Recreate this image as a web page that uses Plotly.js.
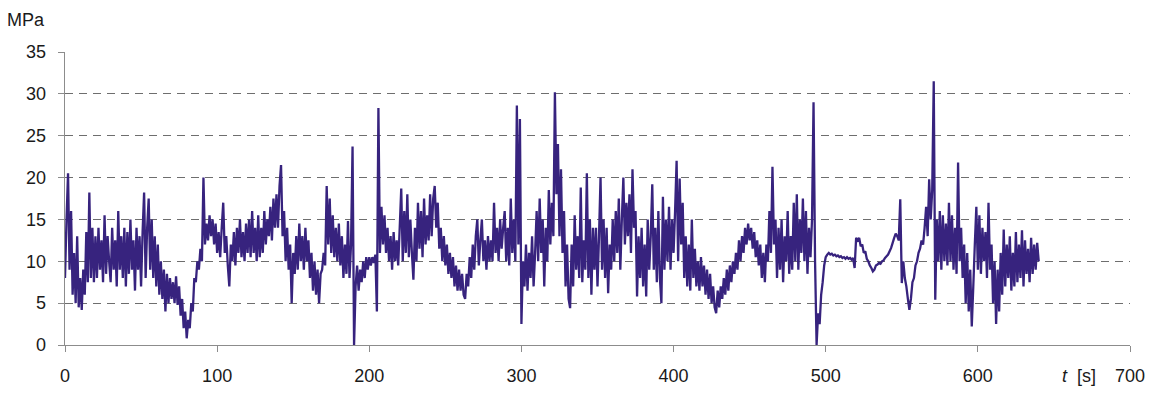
<!DOCTYPE html>
<html>
<head>
<meta charset="utf-8">
<script src="https://cdn.plot.ly/plotly-3.0.1.min.js"></script>
<style>html,body{margin:0;padding:0;background:#fff;}#chart{width:1153px;height:395px;}</style>
</head>
<body>
<div id="chart"></div>
<script>
const sampleStep = 1; // seconds between samples
const s000 = [8,15,20.5,9,16,6,11,5,13,4.5, 8,4.2,9,6,13.5,7.5,18.2,8,14,7.5, 13,8,14,9,12.5,7.5,15.5,8.5,13,10, 7.5,14,9,12.5,7,16,9,13,8,14, 7,13.5,8.5,15,9,12.5,6.5,14,9,13, 7,13.5,18.2,8,14,17.5,9,15,8,13, 7,12,6,10,5.5,9,4,8.5,5,8, 5.5,7.5,5,8.2,4.8,7,3.5,5.5,2,4, 0.8,3,2,5,4,8,7.5,10,9,11.5, 10,20,12,14.5,12.5,15.5,13,15,12,14.5];
const s100 = [11,13.5,10.5,14,17,11,13,9.5,7,12, 10,13.5,9.5,14,11,15,10.5,13.5,10,14.5, 11,15,10.5,16,11,14,10,15.5,10.5,14, 11,16,12,15,13,16.5,12.5,17.5,14,18, 14,19,21.5,13,16,10,14,9,12,5, 11,8.5,13,9,14.5,10,13,9,14,10, 12.5,8,11,6.5,10,6,9,5,8.5,9, 11,9.5,19,12,17.5,11,15.5,10.5,14,10, 14.5,9.5,13,8,12,8.5,14.8,8,12,23.7, 0,7,9.5,6.5,9,7.5,10,8,10.5,9];
const s200 = [10.5,9.5,10.5,9.8,10.8,4,28.3,11,16.5,12, 15.5,11,14,10,13,9,13.5,10,12.5,9.5, 14,18.7,10,16,11,18,10.5,15,11,7.8, 14,10,17,11.5,16,10.5,17.5,12,15.5,12.5, 18,13,17.5,19,14,17,11.5,14,10,13, 9.5,12,8.5,11,8,10.5,7,9.5,6.5,9, 6.5,8.5,6,5.5,8.5,7,10.5,8,12,9, 13,15,9.5,12.5,15,10,12.5,9,13,10, 12.5,10,17,11,14,10,15,11.5,14,16, 10,14,9.5,17.5,11,15,10,28.6,12,27];
const s300 = [2.5,10,7,12,6.5,11,8,13,7,11, 16,10,17.5,11,15,7,14,10,18.5,12, 17,13,30.2,18,24,13,21,11,16,7, 12,5.5,4.4,12,7,15.5,9,13,8,18.8, 7.5,12.5,9,20.5,8,15,6,14,9,14, 7,13,20,9,15,8,14,6.2,12,9, 15,10,16,11,17.5,9,15,20,12,17, 13,18,11,21,14,16,5.8,13,8,14, 7,12,5.8,15,9,13,19.2,9,14,7.5, 16,8,5,17.7,9,15,10,16.5,9,15];
const s400 = [11,16,22,10,19.9,12,17,8,13,7, 12,6.5,15,8,11.5,7,10,6.5,10.5,7, 9.5,6,9,5.5,8.5,5,7,4.5,3.8,6.5, 4.5,7,5.5,8,6,9,6.5,9.5,7.5,10, 8.5,11,9,12.5,10,13,11,14,12,14.5, 12.5,14,11.5,13.5,10.5,12.5,9.5,12,8,11, 7.5,12,10,16,11,21.3,12,15,8,14, 9,15,7.5,13,10,16,8.5,13,9,17, 10,18,9,15,11,17.5,10,16,8.5,14, 10.5,15,29,10,0,3.8,2.5,6,7.5,9.5];
const s500 = [10.5,10.8,11,10.8,10.9,10.7,10.8,10.6,10.7,10.5, 10.6,10.4,10.5,10.3,10.5,10.3,10.4,10.2,10.4,9.2, 12.8,12.5,12.8,11.8,12,11,11.2,10.3,10,9.5, 9.2,8.8,9,9.5,9.6,9.8,9.7,10,10.1,10.4, 10.6,10.8,11.2,11.6,12.2,12.8,13.3,13,12.5,17.4, 7.4,10,8,7,5.5,4.2,5.5,7.5,8,9.5, 10,11,11.5,12.5,12,14,16.5,13,19.8,15, 18.5,31.5,5.4,15,10,16,9,15.5,10,14.5, 9.5,17,10,15.5,9,14,8.5,21.8,10,14, 8,12,5,11,4,9,2.2,7,12,16.5];
const s600 = [9,15.5,8.5,14,10,13.5,8,17,9,12, 5,10,2.5,9,4,11,6,13.8,7,12, 8,13,6.5,11,7,13.5,7.5,12,8,13.7, 7,12.5,8.5,11.5,7.5,12.8,8.5,12,9,12.2,10];

const xTickVals = [0,100,200,300,400,500,600,700];
const yTickVals = [0,5,10,15,20,25,30,35];
const yUnitLabel = 'MPa';
const xTitleLabel = '<i>t</i>  [s]';

const stress = [].concat(s000, s100, s200, s300, s400, s500, s600);
const time = stress.map((_, i) => i * sampleStep);

const font = {family: 'Liberation Sans, Arial, sans-serif', size: 18, color: '#1a1a1a'};

const trace = {
  x: time, y: stress, type: 'scatter', mode: 'lines',
  line: {color: '#37237e', width: 2.3, simplify: false}, hoverinfo: 'skip'
};

const layout = {
  width: 1153, height: 395,
  margin: {l: 65, r: 23, t: 52, b: 50},
  paper_bgcolor: '#fff', plot_bgcolor: '#fff',
  font: font,
  showlegend: false,
  xaxis: {
    range: [0, 700], tickvals: xTickVals, ticktext: xTickVals.map(String),
    showgrid: false, zeroline: false,
    showline: true, linecolor: '#8c8c8c', linewidth: 1.3,
    ticks: 'outside', ticklen: 6, tickcolor: '#8c8c8c',
    ticklabelstandoff: 8, tickfont: font
  },
  yaxis: {
    range: [0, 35], tickvals: yTickVals, ticktext: yTickVals.map(String),
    showgrid: true, gridcolor: '#6e6e6e', griddash: '8px,6px', gridwidth: 1.2,
    zeroline: false,
    showline: true, linecolor: '#8c8c8c', linewidth: 1.3,
    ticks: 'outside', ticklen: 6, tickcolor: '#8c8c8c',
    ticklabelstandoff: 8, tickfont: font
  },
  annotations: [
    {text: yUnitLabel, xref: 'paper', yref: 'paper', x: -0.056, y: 1.11,
     xanchor: 'left', yanchor: 'middle', showarrow: false, font: font},
    {text: xTitleLabel, xref: 'x', yref: 'paper', x: 654, y: -0.105,
     xanchor: 'left', yanchor: 'middle', showarrow: false, font: font}
  ]
};

Plotly.newPlot('chart', [trace], layout, {displayModeBar: false, staticPlot: true});
</script>
</body>
</html>
